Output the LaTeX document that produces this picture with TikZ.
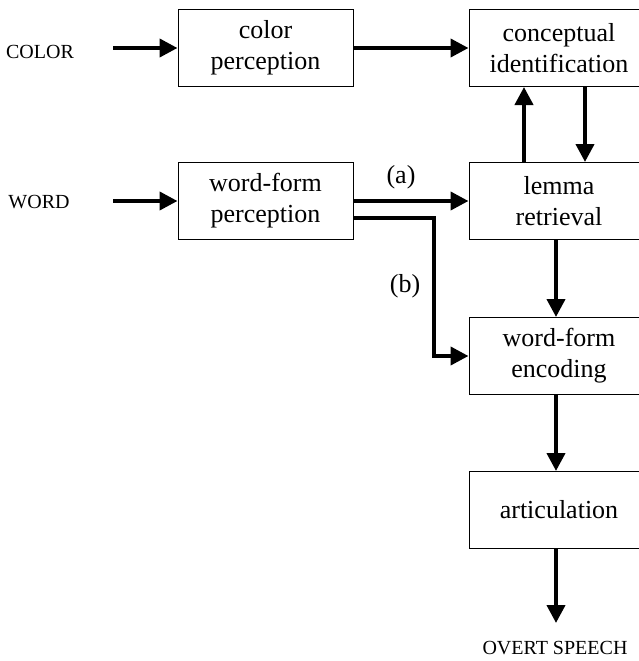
\documentclass[tikz,border=0pt]{standalone}
\usepackage{fontspec}
\setmainfont{Liberation Serif}
\usetikzlibrary{arrows.meta}
\begin{document}
\begin{tikzpicture}[x=1pt,y=-1pt,
  stagebox/.style={draw, line width=1pt, inner sep=0pt, align=center,
    minimum width=175pt, minimum height=77pt,
    font=\fontsize{26}{31}\selectfont},
  rightbox/.style={stagebox, minimum width=180pt},
  inputlabel/.style={inner sep=0pt, font=\fontsize{20}{22}\selectfont},
  pathlabel/.style={inner sep=0pt, font=\fontsize{26}{30}\selectfont},
  flow/.style={line width=4pt, -{Triangle[length=18pt,width=18pt]}},
]
\useasboundingbox (0,0) rectangle (639,661);

% inputs
\node[inputlabel] (color) at (40,52) {COLOR};
\node[inputlabel] (word) at (39,202) {WORD};
\coordinate (colorin) at (113,48);
\coordinate (wordin) at (113,201);

% left column
\node[stagebox] (cp) at (265.5,48) {color\\perception};
\node[stagebox] (wp) at (265.5,201) {word-form\\perception};

% right column (right edges run past the border)
\node[rightbox] (ci) at (559,48) {conceptual\\identification};
\node[rightbox] (lr) at (559,201) {lemma\\retrieval};
\node[rightbox] (we) at (559,356) {word-form\\encoding};
\node[rightbox] (ar) at (559,510) {articulation};

% output
\coordinate (out) at (556,623);
\node[inputlabel] (speech) at (555,648) {OVERT SPEECH};

% connectors
\draw[flow] (colorin) -- (cp.west);
\draw[flow] (wordin) -- (wp.west);
\draw[flow] (cp.east) -- (ci.west);
\draw[flow] (wp.east) -- (lr.west);
\node[pathlabel] (la) at (401,177) {(a)};
\draw[flow] (wp.east |- 0,218) -| (434,356) -- (we.west);
\node[pathlabel] (lb) at (405,286) {(b)};
\draw[flow] (lr.north -| 524,0) -- (ci.south -| 524,0);
\draw[flow] (ci.south -| 585,0) -- (lr.north -| 585,0);
\draw[flow] (lr.south -| 556,0) -- (we.north -| 556,0);
\draw[flow] (we.south -| 556,0) -- (ar.north -| 556,0);
\draw[flow] (ar.south -| 556,0) -- (out);
\end{tikzpicture}
\end{document}
